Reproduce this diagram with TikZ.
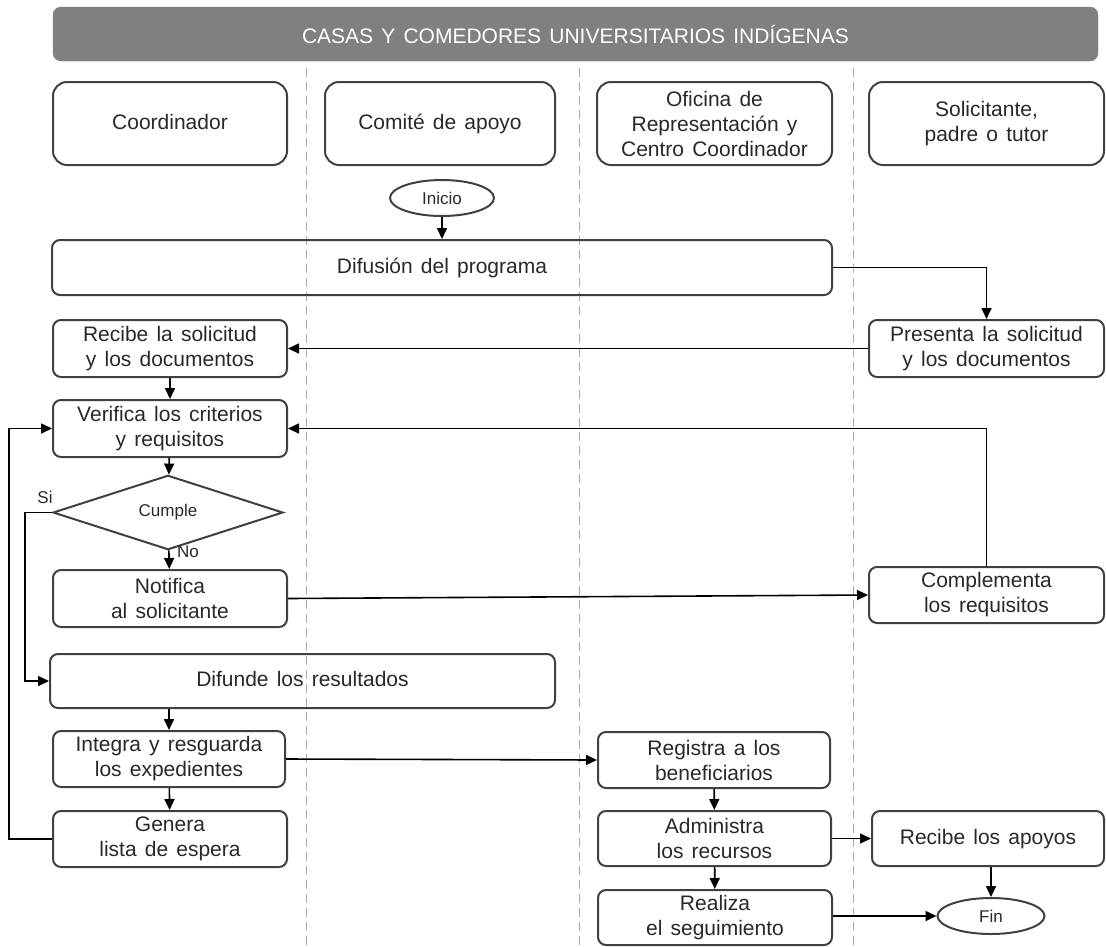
\documentclass[tikz,border=0pt]{standalone}
\usepackage{fontspec}
\setmainfont[WordSpace={1.4,1,1}]{Liberation Sans}
\usetikzlibrary{arrows.meta,shapes.geometric}
\definecolor{bordc}{RGB}{64,64,64}
\definecolor{txtc}{RGB}{40,40,40}
\definecolor{titlegray}{RGB}{128,128,128}
\definecolor{lanec}{RGB}{170,170,170}
\begin{document}
\begin{tikzpicture}[x=1pt,y=-1pt,
  box/.style={draw=bordc, line width=2pt, rounded corners=8pt, align=center,
    font=\fontsize{21}{25}\selectfont, text=txtc, inner sep=2pt},
  hdr/.style={box, rounded corners=14pt, minimum height=83pt},
  one/.style={text height=15pt, text depth=4pt},
  term/.style={ellipse, draw=bordc, line width=2pt, font=\fontsize{17}{20}\selectfont, text=txtc, inner sep=0pt},
  arr/.style={draw=black, line width=1.6pt, -{Triangle[length=11pt,width=10pt]}},
  lane/.style={draw=lanec, line width=1pt, dash pattern=on 9pt off 5pt},
  lbl/.style={font=\fontsize{17}{20}\selectfont, text=txtc, inner sep=1pt}
]
\useasboundingbox (0,0) rectangle (1106,946);

% lanes
\draw[lane] (306,68) -- (306,946);
\draw[lane] (579,68) -- (579,946);
\draw[lane] (853,68) -- (853,946);

% title
\node[fill=titlegray, draw=titlegray, rounded corners=8pt, minimum width=1045pt, minimum height=54pt,
  text=white, font=\fontsize{21}{25}\selectfont] (title) at (575.5,34) {CASAS Y COMEDORES UNIVERSITARIOS INDÍGENAS};

% headers
\node[hdr, one, minimum width=234pt] (h1) at (170,123.5) {Coordinador};
\node[hdr, one, minimum width=230pt] (h2) at (440,123.5) {Comité de apoyo};
\node[hdr, minimum width=235pt] (h3) at (714.5,123.5) {Oficina de\\Representación y\\Centro Coordinador};
\node[hdr, minimum width=235pt] (h4) at (986.5,123.5) {Solicitante,\\padre o tutor};

% flow nodes
\node[term, minimum width=104pt, minimum height=36pt] (inicio) at (442,198) {Inicio};
\node[box, one, minimum width=780pt, minimum height=55pt] (difusion) at (442,267.5) {Difusión del programa};
\node[box, minimum width=234pt, minimum height=57pt] (recibe) at (170,348.5) {Recibe la solicitud\\y los documentos};
\node[box, minimum width=235pt, minimum height=57pt] (presenta) at (986.5,348.5) {Presenta la solicitud\\y los documentos};
\node[box, minimum width=234pt, minimum height=57pt] (verifica) at (170,428.5) {Verifica los criterios\\y requisitos};
\node[diamond, draw=bordc, line width=2pt, minimum width=230pt, minimum height=65pt, inner sep=0pt,
  font=\fontsize{17}{20}\selectfont, text=txtc] (cumple) at (168,512.5) {Cumple};
\node[box, minimum width=234pt, minimum height=57pt] (notifica) at (170,598.5) {Notifica\\al solicitante};
\node[box, minimum width=235pt, minimum height=56pt] (complementa) at (986.5,595) {Complementa\\los requisitos};
\node[box, one, minimum width=505pt, minimum height=54pt] (difunde) at (302.5,681) {Difunde los resultados};
\node[box, minimum width=232pt, minimum height=56pt] (integra) at (169,759) {Integra y resguarda\\los expedientes};
\node[box, minimum width=232pt, minimum height=56pt] (registra) at (714,760) {Registra a los\\beneficiarios};
\node[box, minimum width=234pt, minimum height=56pt] (genera) at (170,839) {Genera\\lista de espera};
\node[box, minimum width=233pt, minimum height=55pt] (administra) at (714.5,838.5) {Administra\\los recursos};
\node[box, one, minimum width=232pt, minimum height=55pt] (apoyos) at (988,838.5) {Recibe los apoyos};
\node[box, minimum width=234pt, minimum height=55pt] (realiza) at (715,917.5) {Realiza\\el seguimiento};
\node[term, minimum width=107pt, minimum height=36pt] (fin) at (991,916) {Fin};

% connectors
\draw[arr] (inicio) -- (difusion);
\draw[arr] (difusion.east) -| (presenta.north);
\draw[arr] (presenta) -- (recibe);
\draw[arr] (recibe) -- (verifica);
\draw[arr] (complementa.north) |- (verifica.east);
\draw[arr] (verifica) -- (cumple);
\draw[arr] (cumple) -- (notifica);
\node[lbl] (no) at (188,552) {No};
\coordinate (siturn) at ([xshift=-27pt]cumple.west);
\draw[arr] (cumple.west) -- (siturn) |- (difunde.west);
\node[lbl] (si) at (45,497) {Si};
\draw[arr] (notifica.east) -- (complementa.west);
\draw[arr] (integra.north |- difunde.south) -- (integra.north);
\draw[arr] (integra.east) -- (registra.west);
\draw[arr] (integra) -- (genera);
\coordinate (genturn) at ([xshift=-43pt]genera.west);
\draw[arr] (genera.west) -- (genturn) |- (verifica.west);
\draw[arr] (registra) -- (administra);
\draw[arr] (administra.east) -- (apoyos.west);
\draw[arr] (administra) -- (realiza);
\draw[arr] (realiza.east |- fin.west) -- (fin.west);
\draw[arr] (apoyos.south -| fin.north) -- (fin.north);
\end{tikzpicture}
\end{document}
